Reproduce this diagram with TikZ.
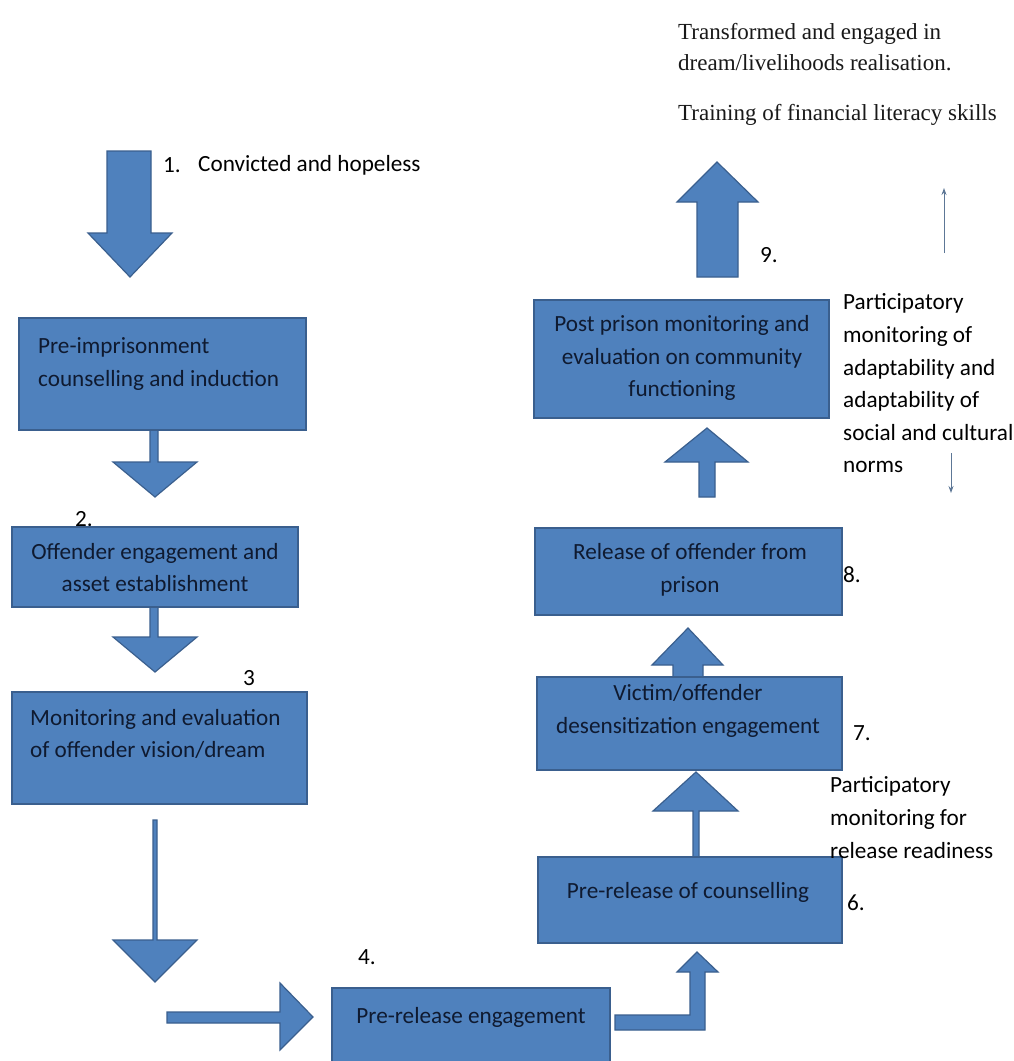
\documentclass[tikz,border=0pt]{standalone}
\usepackage{fontspec}
\setmainfont{Carlito}
\newfontfamily\timesfont{Liberation Serif}
\usetikzlibrary{arrows.meta}
\definecolor{boxblue}{HTML}{4F81BD}
\definecolor{boxedge}{HTML}{3A5F8E}
\definecolor{boxink}{HTML}{0F1A30}
\definecolor{thinline}{HTML}{5D7796}
\begin{document}
\begin{tikzpicture}[x=1pt,y=-1pt,
  box/.style={draw=boxedge, fill=boxblue, line width=2pt, inner sep=0pt},
  blk/.style={draw=boxedge, fill=boxblue, line width=1.2pt, line join=miter},
  intext/.style={font=\fontsize{23.2}{32.5}\selectfont, text=boxink, inner sep=0pt},
  lbl/.style={font=\fontsize{23.2}{32.6}\selectfont, text=black, inner sep=0pt, anchor=west, align=left},
  seriflbl/.style={font=\timesfont\fontsize{23}{31}\selectfont, text=black!90, inner sep=0pt, anchor=west, align=left},
  thinarrow/.style={draw=thinline, line width=1pt, -{Stealth[length=7pt,width=5pt]}}]
\clip (0,0) rectangle (1014,1061);
\fill[white] (0,0) rectangle (1014,1061);

% block arrows (drawn first, boxes cover their joints)
\draw[blk] (107,151) -- (151,151) -- (151,233) -- (172,233) -- (130,277) -- (88,233) -- (107,233) -- cycle;
\draw[blk] (150,430) -- (158,430) -- (158,462) -- (197,462) -- (155,497) -- (113,462) -- (150,462) -- cycle;
\draw[blk] (150,607) -- (158,607) -- (158,637) -- (197,637) -- (155,672) -- (113,637) -- (150,637) -- cycle;
\draw[blk] (153,820) -- (157,820) -- (157,940) -- (197,940) -- (155,982) -- (113,940) -- (153,940) -- cycle;
\draw[blk] (167,1012) -- (280,1012) -- (280,983) -- (313,1017) -- (280,1050) -- (280,1023) -- (167,1023) -- cycle;
\draw[blk] (615,1015) -- (690,1015) -- (690,972) -- (677,972) -- (697,952) -- (718,972) -- (705,972) -- (705,1030) -- (615,1030) -- cycle;
\draw[blk] (693,857) -- (693,811) -- (653,811) -- (696,772) -- (738,811) -- (699,811) -- (699,857) -- cycle;
\draw[blk] (673,677) -- (673,665) -- (652,665) -- (688,628) -- (723,665) -- (703,665) -- (703,677) -- cycle;
\draw[blk] (699,497) -- (699,462) -- (665,462) -- (707,428) -- (748,462) -- (715,462) -- (715,497) -- cycle;
\draw[blk] (697,277) -- (697,202) -- (677,202) -- (717,162) -- (758,202) -- (738,202) -- (738,277) -- cycle;

% labels behind boxes
\node[lbl] (n2) at (75,519) {2.};

% boxes
\node[box, minimum width=287pt, minimum height=112pt] (b1) at (162.5,374) {};
\node[box, minimum width=286pt, minimum height=80pt] (b2) at (155,567) {};
\node[box, minimum width=295pt, minimum height=112pt] (b3) at (159.5,748) {};
\node[box, minimum width=278pt, minimum height=87pt] (b4) at (471,1031.5) {};
\node[box, minimum width=304pt, minimum height=86pt] (b6) at (690,900) {};
\node[box, minimum width=305pt, minimum height=93pt] (b7) at (689.5,723.5) {};
\node[box, minimum width=307pt, minimum height=87pt] (b8) at (688.5,571.5) {};
\node[box, minimum width=295pt, minimum height=118pt] (b9) at (681.5,359) {};

% box texts
\node[intext, anchor=west, align=left] (t1) at (38,364) {Pre-imprisonment\\counselling and induction};
\node[intext, align=center] (t2) at (155,567.5) {Offender engagement and\\asset establishment};
\node[intext, anchor=west, align=left] (t3) at (30,734) {Monitoring and evaluation\\of offender vision/dream};
\node[intext] (t4) at (471,1017) {Pre-release engagement};
\node[intext] (t6) at (688,892) {Pre-release of counselling};
\node[intext, align=center] (t7) at (688,711) {Victim/offender\\desensitization engagement};
\node[intext, align=center] (t8) at (690,570) {Release of offender from\\prison};
\node[intext, align=center] (t9) at (682,358) {Post prison monitoring and\\evaluation on community\\functioning};

% numbers and side notes
\node[lbl] (n1) at (163,165) {1.};
\node[lbl] (c1) at (198,165) {Convicted and hopeless};
\node[lbl] (n3) at (243,678) {3};
\node[lbl] (n4) at (358,957) {4.};
\node[lbl] (n6) at (847,903) {6.};
\node[lbl] (n7) at (853,733) {7.};
\node[lbl] (n8) at (843,575) {8.};
\node[lbl] (n9) at (760,255) {9.};
\node[lbl] (p1) at (843,383.5) {Participatory\\monitoring of\\adaptability and\\adaptability of\\social and cultural\\norms};
\node[lbl] (p2) at (830,817.5) {Participatory\\monitoring for\\release readiness};
\node[seriflbl] (s1) at (678,47.5) {Transformed and engaged in\\dream/livelihoods realisation.};
\node[seriflbl] (s2) at (678,115) {Training of financial literacy skills};

% thin arrows
\coordinate (ua) at (944,253); \coordinate (ub) at (944,188);
\coordinate (da) at (951,453); \coordinate (db) at (951,493);
\draw[thinarrow] (ua) -- (ub);
\draw[thinarrow] (da) -- (db);
\end{tikzpicture}
\end{document}
